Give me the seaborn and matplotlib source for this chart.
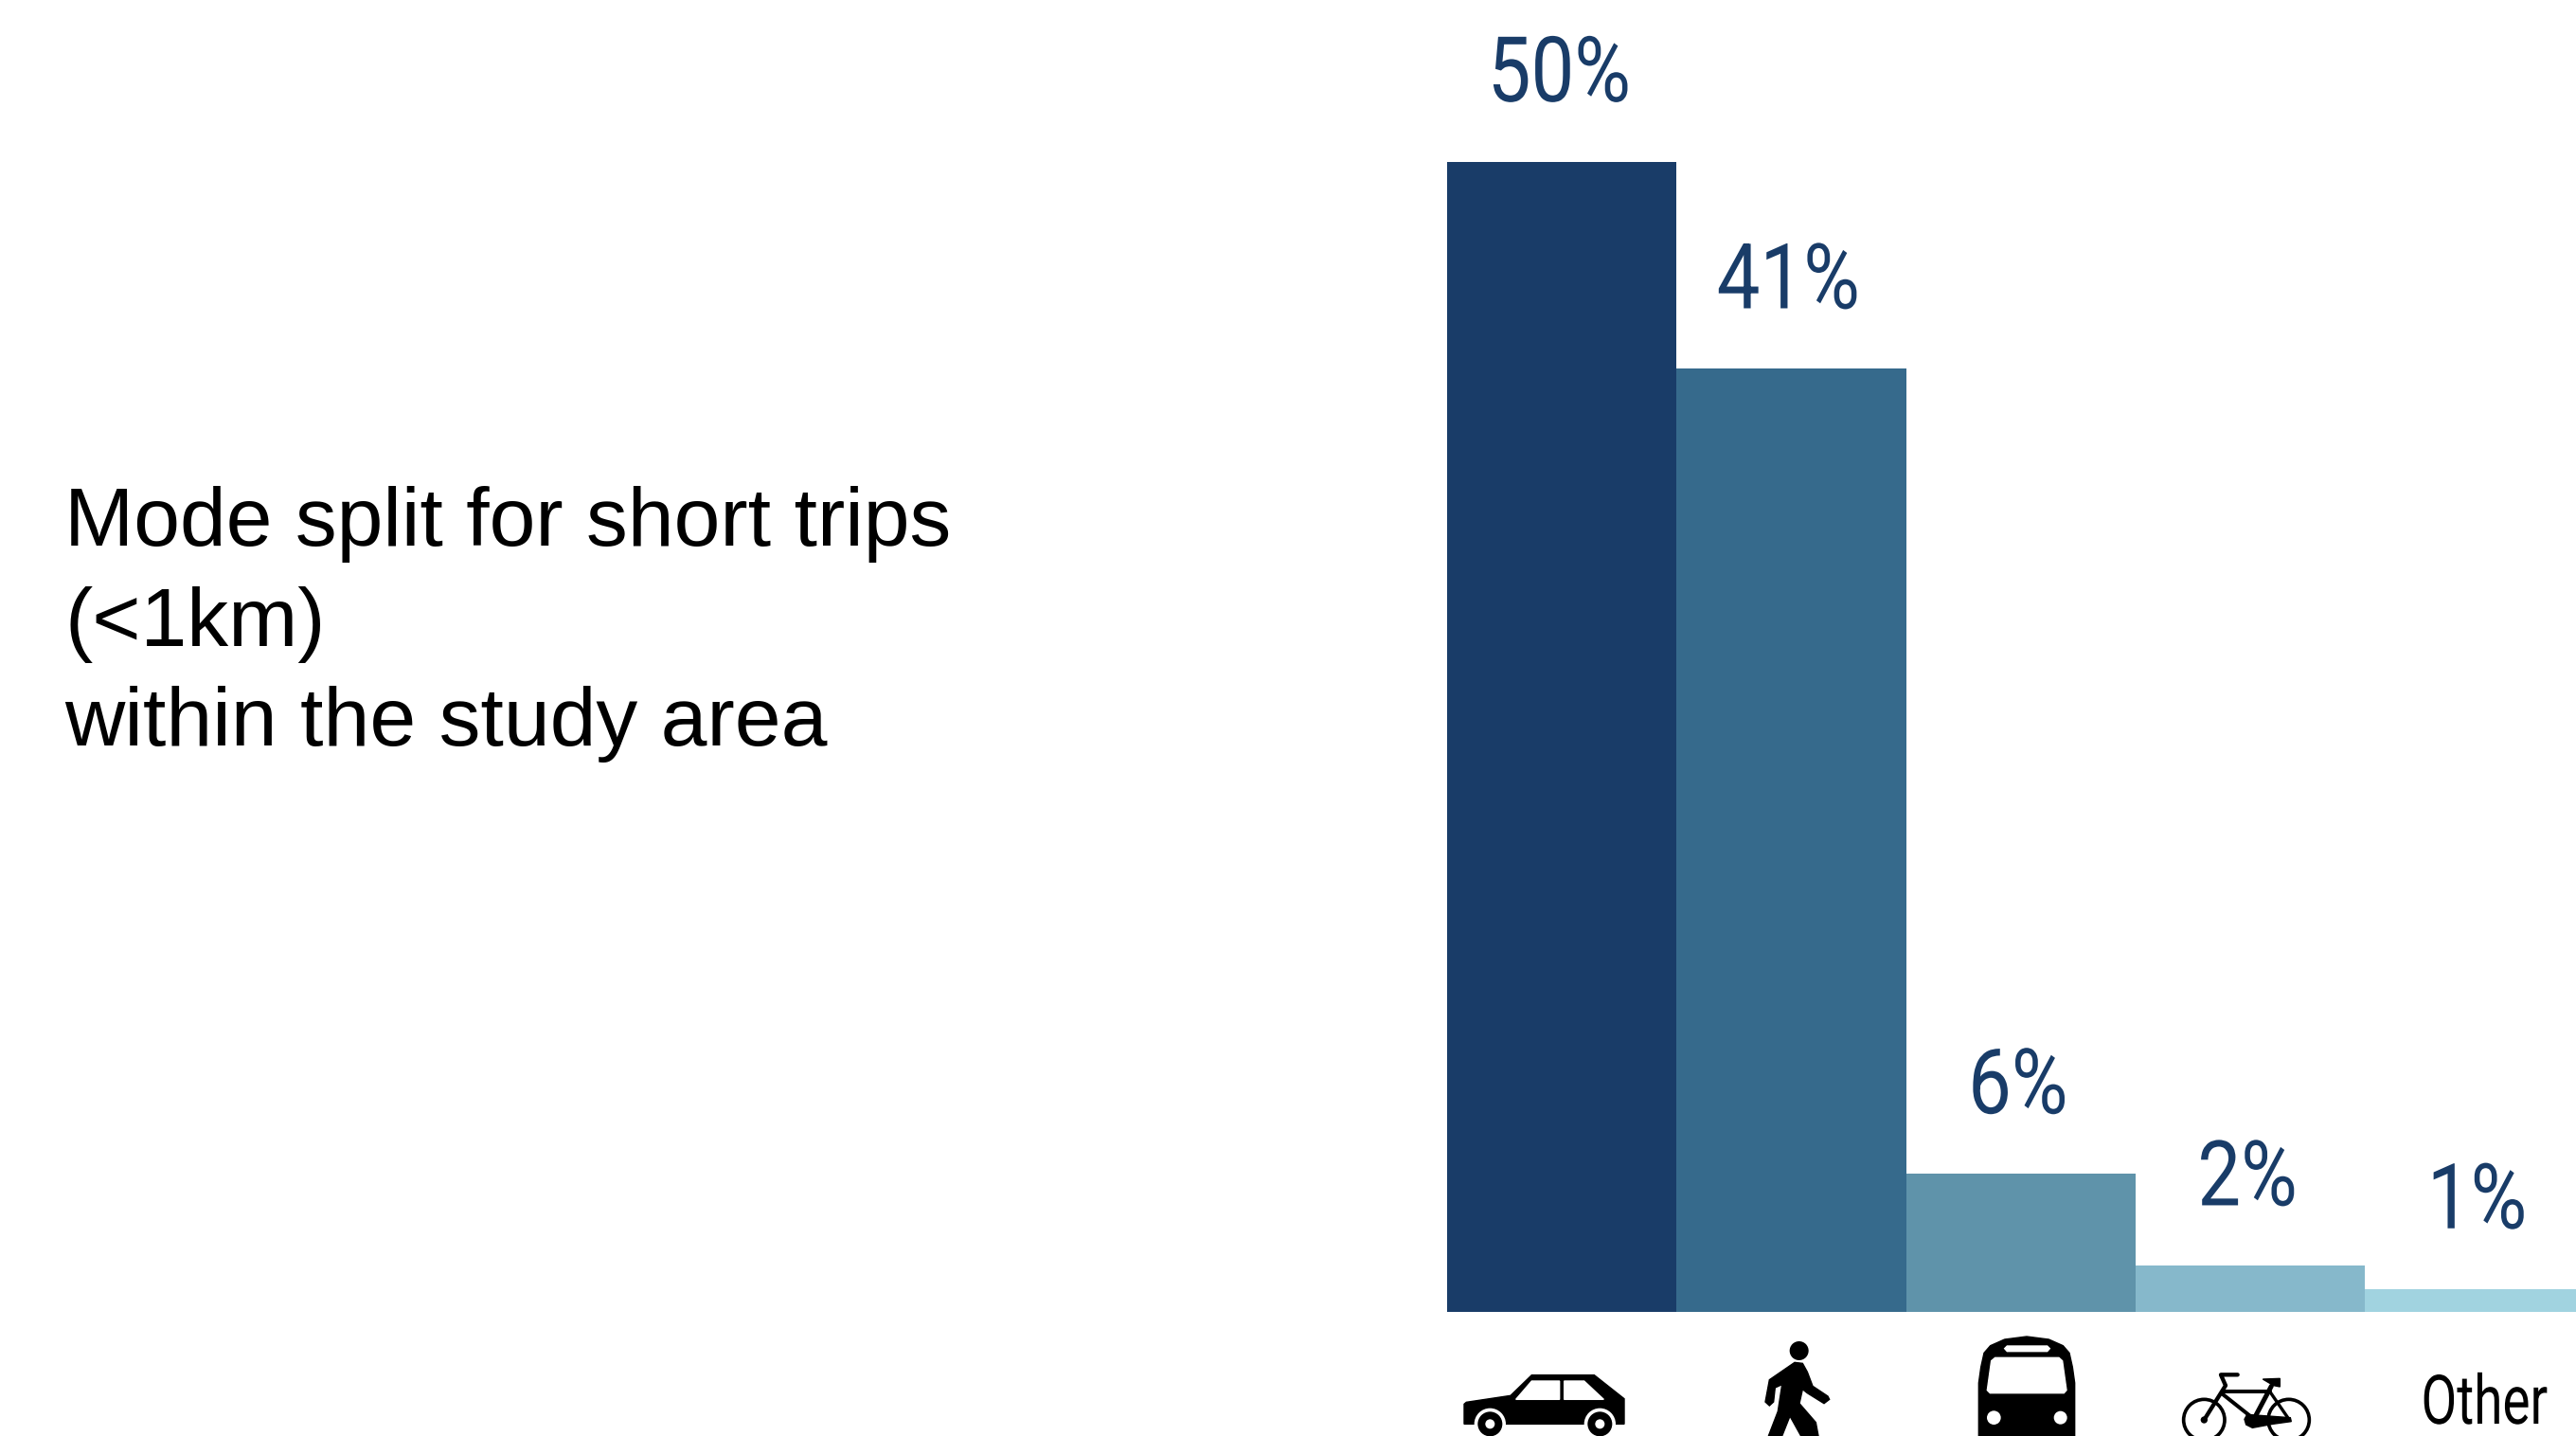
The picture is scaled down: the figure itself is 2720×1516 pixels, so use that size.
import matplotlib
matplotlib.use("Agg")
import matplotlib.pyplot as plt
import matplotlib.patches as mp
import matplotlib.patheffects as pe
from matplotlib.transforms import Affine2D
import seaborn as sns

# Mode split for short trips, in percent
modes = ["Car", "Walking", "Public transport", "Cycling", "Other"]
shares = [50, 41, 6, 2, 1]
bar_colors = ["#193C68", "#366A8C", "#5F93AA", "#86B8CB", "#A1D3E0"]
title_lines = ["Mode split for short trips", "(<1km)", "within the study area"]

W, H, DPI = 2720, 1516, 100
NAVY = "#193C68"
LABEL_FONT = ["Roboto", "DejaVu Sans"]


class Squeeze(pe.AbstractPathEffect):
    """Narrow a text's glyphs horizontally about their own centre."""

    def __init__(self, factor):
        super().__init__()
        self.factor = factor

    def draw_path(self, renderer, gc, tpath, affine, rgbFace=None):
        box = tpath.get_extents()
        mid = (box.x0 + box.x1) / 2
        squeeze = Affine2D().translate(-mid, 0).scale(self.factor, 1).translate(mid, 0)
        renderer.draw_path(gc, tpath, squeeze + affine, rgbFace)


sns.set_theme(style="white")
fig = plt.figure(figsize=(W / DPI, H / DPI), dpi=DPI, facecolor="white")

# Chart axes: baseline at y=1385 px, bars 242 px wide, last bar runs off the right edge
ax = fig.add_axes([1528 / W, (H - 1385) / H, (W - 1528) / W, 1385 / H])
sns.barplot(x=modes, y=shares, hue=modes, palette=bar_colors, order=modes,
            hue_order=modes, width=1.0, saturation=1, legend=False, linewidth=0, ax=ax)
ax.set_xlim(-0.5, 4.42)
ax.set_ylim(0, 57.04)
ax.axis("off")

px = 72 / DPI
for i, v in enumerate(shares):
    ax.annotate(f"{v}%", xy=(i, v), xytext=(-3 * px, 64 * px),
                textcoords="offset points", ha="center", va="baseline",
                color=NAVY, fontsize=69, family=LABEL_FONT, annotation_clip=False,
                path_effects=[Squeeze(0.85)])

# Left-hand heading, one baseline per line
for line, base in zip(title_lines, [576, 682, 787]):
    fig.text(68 / W, 1 - base / H, line, ha="left", va="baseline",
             fontsize=63.2, color="black", family=["Liberation Sans", "DejaVu Sans"])

# Overlay in pixel coordinates for the mode pictograms below the baseline
ov = fig.add_axes([0, 0, 1, 1], facecolor="none")
ov.set_xlim(0, W)
ov.set_ylim(H, 0)
ov.axis("off")

ov.text(2623, 1503, modes[4], ha="center", va="baseline", color="black",
        fontsize=52, family=LABEL_FONT, path_effects=[Squeeze(0.76)])


def poly(pts, ox, oy, color="black", **kw):
    ov.add_patch(mp.Polygon([(ox + x / 3, oy + y / 3) for x, y in pts], closed=True,
                            facecolor=color, edgecolor=color, **kw))


def disc(x, y, r, ox, oy, color="black"):
    ov.add_patch(mp.Circle((ox + x / 3, oy + y / 3), r / 3, facecolor=color, edgecolor="none"))


def stroke(pts, w, ox, oy, color="black"):
    ov.plot([ox + x / 3 for x, _ in pts], [oy + y / 3 for _, y in pts], color=color,
            lw=w / 3 * px, solid_capstyle="round", solid_joinstyle="round")


def ring(x, y, r, w, ox, oy):
    ov.add_patch(mp.Circle((ox + x / 3, oy + y / 3), r / 3, facecolor="none",
                           edgecolor="black", lw=w / 3 * px))


# Car
o = (1530, 1400)
poly([(48, 247), (55, 241), (195, 220), (262, 155), (460, 155), (555, 230), (555, 310),
      (48, 310)], *o)
poly([(212, 232), (262, 174), (350, 174), (350, 232)], *o, color="white")
poly([(365, 174), (428, 174), (490, 232), (365, 232)], *o, color="white")
for cx in (130, 478):
    disc(cx, 310, 50, *o, color="white")
    disc(cx, 310, 39, *o)
    disc(cx, 310, 15, *o, color="white")

# Pedestrian
o = (1840, 1400)
disc(179, 78, 30, *o)
poly([(165, 115), (190, 118), (205, 145), (222, 190), (270, 222), (275, 232), (258, 245),
      (205, 212), (190, 200), (180, 245), (232, 305), (240, 348), (185, 348), (150, 285),
      (125, 348), (82, 348), (112, 270), (125, 185), (103, 195), (98, 240), (85, 252),
      (72, 240), (85, 170)], *o)

# Bus, front view
o = (2080, 1400)
poly([(180, 33), (110, 42), (65, 62), (45, 85), (35, 130), (28, 180), (28, 348), (332, 348),
      (332, 180), (325, 130), (315, 85), (295, 62), (250, 42)], *o)
poly([(118, 63), (245, 63), (253, 71), (245, 80), (118, 80), (110, 71)], *o, color="white")
poly([(80, 100), (282, 100), (293, 110), (306, 203), (298, 212), (64, 212), (55, 203),
      (68, 110)], *o, color="white")
disc(76, 290, 22, *o, color="white")
disc(287, 290, 21, *o, color="white")

# Bicycle
o = (2290, 1430)
ring(112, 207, 65, 11, *o)
ring(380, 207, 65, 11, *o)
stroke([(218, 64), (165, 64), (180, 98), (112, 207)], 13, *o)
stroke([(175, 117), (322, 117)], 12, *o)
stroke([(170, 125), (262, 198)], 12, *o)
stroke([(325, 100), (272, 200)], 15, *o)
stroke([(322, 120), (382, 207)], 10, *o)
disc(112, 207, 11, *o)
poly([(298, 78), (352, 76), (352, 102), (332, 98)], *o)
poly([(248, 190), (385, 200), (388, 212), (330, 220), (265, 232), (245, 222), (240, 205)], *o)

fig.savefig("out.png", dpi=DPI, facecolor="white")
